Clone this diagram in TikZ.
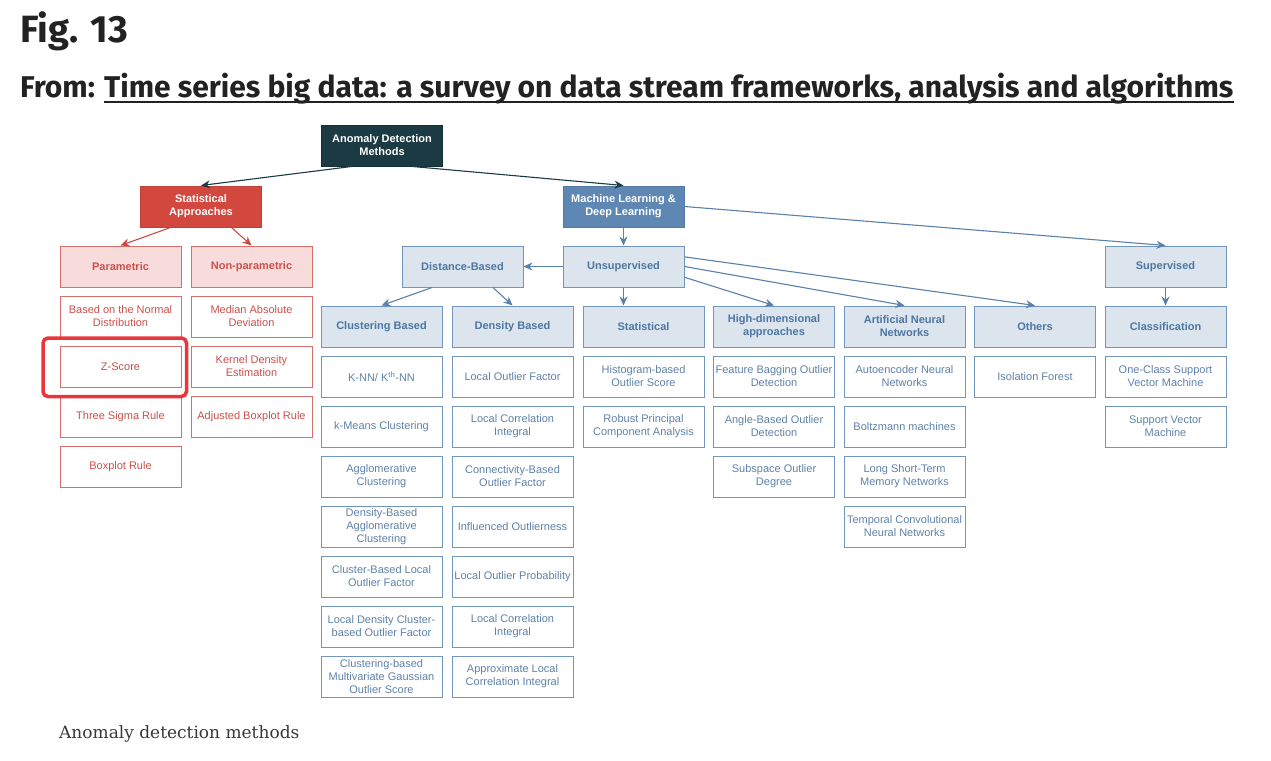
\documentclass[tikz,border=0pt]{standalone}
\usepackage{xcolor}
\usepackage{fontspec}
\setmainfont{Liberation Sans}
\newfontfamily\firafont{Fira Sans}
\newfontfamily\capfont{DejaVu Serif}
\usetikzlibrary{positioning,arrows.meta,calc}

\definecolor{titlegray}{HTML}{222222}
\definecolor{rootfill}{HTML}{1C3A44}
\definecolor{statfill}{HTML}{D2483E}
\definecolor{mlfill}{HTML}{5E87B4}
\definecolor{pinkfill}{HTML}{F8DCDB}
\definecolor{redline}{HTML}{D66E69}
\definecolor{redtext}{HTML}{C9514C}
\definecolor{bluefill}{HTML}{DCE5EE}
\definecolor{blueline}{HTML}{7096BD}
\definecolor{bluetext}{HTML}{4E76A1}
\definecolor{leaftext}{HTML}{5F82AA}
\definecolor{arrowblue}{HTML}{5A81AC}
\definecolor{hlred}{HTML}{E8363C}

\tikzset{
  box/.style={draw, minimum width=121pt, minimum height=41pt, inner sep=1pt,
    align=center, line width=1pt, font=\fontsize{11}{13}\selectfont},
  headbox/.style={box, font=\bfseries\fontsize{11}{13}\selectfont},
  rootbox/.style={headbox, fill=rootfill, draw=rootfill!80!black, text=white},
  statbox/.style={headbox, fill=statfill, draw=statfill!90!black, text=white},
  mlbox/.style={headbox, fill=mlfill, draw=mlfill!90!black, text=white},
  redhead/.style={headbox, fill=pinkfill, draw=redline, text=redtext},
  redleaf/.style={box, draw=redline, text=redtext},
  bluehead/.style={headbox, fill=bluefill, draw=blueline, text=bluetext},
  blueleaf/.style={box, draw=blueline, text=leaftext},
  tip/.style={-{Stealth[length=9pt,width=8pt,inset=3pt]}, line width=1.1pt},
  rootarrow/.style={tip, draw=rootfill},
  redarrow/.style={tip, draw=statfill},
  bluearrow/.style={tip, draw=arrowblue},
}

\begin{document}
\begin{tikzpicture}[x=1pt,y=-1pt]
    \fill[white] (0,0) rectangle (1271,760);
    \useasboundingbox (0,0) rectangle (1271,760);

    % Heading
    \node[anchor=base west, inner sep=0, text=titlegray,
      font=\firafont\bfseries\fontsize{38}{42}\selectfont] (fig) at (20,43) {Fig. 13};
    \node[anchor=base west, inner sep=0, text=titlegray,
      font=\firafont\bfseries\fontsize{30}{34}\selectfont] (from) at (20,97) {From:};
    \node[anchor=base west, inner sep=0, text=titlegray,
      font=\firafont\bfseries\fontsize{30}{34}\selectfont] (paper) at (104,97)
      {Time series big data: a survey on data stream frameworks, analysis and algorithms};
    \draw[titlegray, line width=1.6pt] ([yshift=-5pt]paper.base west) -- ([yshift=-5pt]paper.base east);

    % Top levels
    \node[rootbox] (root) at (382,145.5) {Anomaly Detection\\Methods};
    \node[statbox] (statapp) at (201,206.5) {Statistical\\Approaches};
    \node[mlbox] (mldl) at (623.5,206.5) {Machine Learning \&\\Deep Learning};

    \node[redhead] (param) at (120.5,266.5) {Parametric};
    \node[redhead] (nonparam) at (251.5,266.5) {Non-parametric};
    \node[bluehead] (distance) at (462.5,266.5) {Distance-Based};
    \node[bluehead] (unsup) at (623.5,266.5) {Unsupervised};
    \node[bluehead] (sup) at (1165.5,266.5) {Supervised};

    \node[bluehead] (cluster) at (381.5,326.5) {Clustering Based};
    \node[bluehead] (density) at (512.5,326.5) {Density Based};
    \node[bluehead] (statml) at (643.5,326.5) {Statistical};
    \node[bluehead] (hidim) at (774,326.5) {High-dimensional\\approaches};
    \node[bluehead] (ann) at (904.5,326.5) {Artificial Neural\\Networks};
    \node[bluehead] (others) at (1035,326.5) {Others};
    \node[bluehead] (classif) at (1165.5,326.5) {Classification};

    % Statistical leaves
    \node[redleaf] (p1) at (120.5,316.5) {Based on the Normal\\Distribution};
    \node[redleaf] (p2) at (120.5,366.5) {Z-Score};
    \node[redleaf] (p3) at (120.5,416.5) {Three Sigma Rule};
    \node[redleaf] (p4) at (120.5,466.5) {Boxplot Rule};
    \node[redleaf] (n1) at (251.5,316.5) {Median Absolute\\Deviation};
    \node[redleaf] (n2) at (251.5,366.5) {Kernel Density\\Estimation};
    \node[redleaf] (n3) at (251.5,416.5) {Adjusted Boxplot Rule};

    % Clustering based leaves
    \node[blueleaf] (c1) at (381.5,376.5) {K-NN/ K\textsuperscript{th}-NN};
    \node[blueleaf] (c2) at (381.5,426.5) {k-Means Clustering};
    \node[blueleaf] (c3) at (381.5,476.5) {Agglomerative\\Clustering};
    \node[blueleaf] (c4) at (381.5,526.5) {Density-Based\\Agglomerative\\Clustering};
    \node[blueleaf] (c5) at (381.5,576.5) {Cluster-Based Local\\Outlier Factor};
    \node[blueleaf] (c6) at (381.5,626.5) {Local Density Cluster-\\based Outlier Factor};
    \node[blueleaf] (c7) at (381.5,676.5) {Clustering-based\\Multivariate Gaussian\\Outlier Score};

    % Density based leaves
    \node[blueleaf] (d1) at (512.5,376.5) {Local Outlier Factor};
    \node[blueleaf] (d2) at (512.5,426.5) {Local Correlation\\Integral};
    \node[blueleaf] (d3) at (512.5,476.5) {Connectivity-Based\\Outlier Factor};
    \node[blueleaf] (d4) at (512.5,526.5) {Influenced Outlierness};
    \node[blueleaf] (d5) at (512.5,576.5) {Local Outlier Probability};
    \node[blueleaf] (d6) at (512.5,626.5) {Local Correlation\\Integral};
    \node[blueleaf] (d7) at (512.5,676.5) {Approximate Local\\Correlation Integral};

    % Other unsupervised leaves
    \node[blueleaf] (s1) at (643.5,376.5) {Histogram-based\\Outlier Score};
    \node[blueleaf] (s2) at (643.5,426.5) {Robust Principal\\Component Analysis};
    \node[blueleaf] (h1) at (774,376.5) {Feature Bagging Outlier\\Detection};
    \node[blueleaf] (h2) at (774,426.5) {Angle-Based Outlier\\Detection};
    \node[blueleaf] (h3) at (774,476.5) {Subspace Outlier\\Degree};
    \node[blueleaf] (a1) at (904.5,376.5) {Autoencoder Neural\\Networks};
    \node[blueleaf] (a2) at (904.5,426.5) {Boltzmann machines};
    \node[blueleaf] (a3) at (904.5,476.5) {Long Short-Term\\Memory Networks};
    \node[blueleaf] (a4) at (904.5,526.5) {Temporal Convolutional\\Neural Networks};
    \node[blueleaf] (o1) at (1035,376.5) {Isolation Forest};

    % Supervised leaves
    \node[blueleaf] (k1) at (1165.5,376.5) {One-Class Support\\Vector Machine};
    \node[blueleaf] (k2) at (1165.5,426.5) {Support Vector\\Machine};

    % Highlight
    \draw[hlred, line width=3.5pt, rounded corners=5pt]
      ($(p2.north west)+(-16.5,-7.5)$) rectangle ($(p2.south east)+(5,9)$);

    % Connectors
    \draw[rootarrow] ($(root.south west)!0.25!(root.south east)$) -- (statapp.north);
    \draw[rootarrow] ($(root.south west)!0.75!(root.south east)$) -- (mldl.north);
    \draw[redarrow] ($(statapp.south west)!0.25!(statapp.south east)$) -- (param.north);
    \draw[redarrow] ($(statapp.south west)!0.75!(statapp.south east)$) -- (nonparam.north);
    \draw[bluearrow] (mldl) -- (unsup);
    \draw[bluearrow] (mldl.east) -- (sup.north);
    \draw[bluearrow] (unsup) -- (distance);
    \draw[bluearrow] ($(distance.south west)!0.25!(distance.south east)$) -- (cluster.north);
    \draw[bluearrow] ($(distance.south west)!0.75!(distance.south east)$) -- (density.north);
    \draw[bluearrow] (unsup.south) -- (unsup.south |- statml.north);
    \draw[bluearrow] (unsup.-10) -- (hidim.north);
    \draw[bluearrow] (unsup.east) -- (ann.north);
    \draw[bluearrow] (unsup.9) -- (others.north);
    \draw[bluearrow] (sup) -- (classif);

    % Caption
    \node[anchor=base west, inner sep=0, text=titlegray!90,
      font=\capfont\fontsize{17}{21}\selectfont] (caption) at (59,738) {Anomaly detection methods};
\end{tikzpicture}
\end{document}
